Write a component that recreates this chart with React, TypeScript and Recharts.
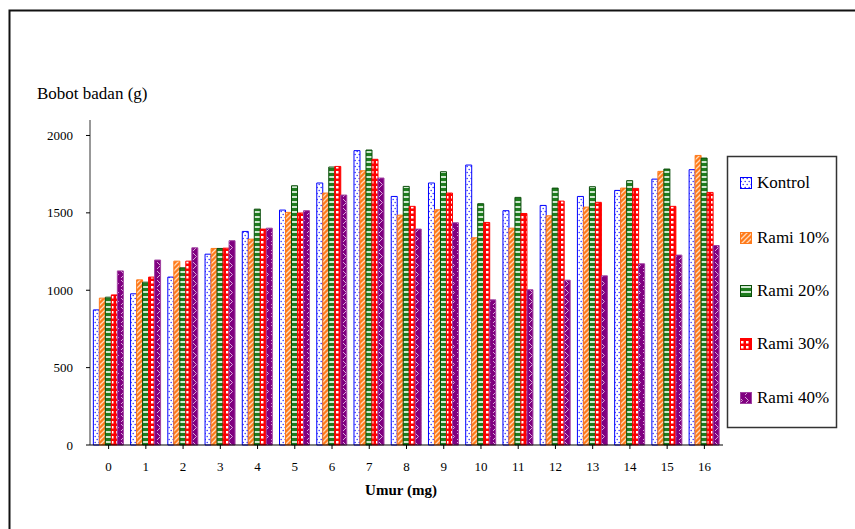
import { BarChart, Bar, XAxis, YAxis } from 'recharts'

const FONT = 'Liberation Serif, Times New Roman, serif'

const ages = ['0', '1', '2', '3', '4', '5', '6', '7', '8', '9', '10', '11', '12', '13', '14', '15', '16']
const kontrol = [873, 977, 1085, 1233, 1380, 1518, 1693, 1902, 1606, 1693, 1809, 1514, 1548, 1606, 1645, 1718, 1779]
const rami10 = [949, 1067, 1188, 1270, 1330, 1503, 1628, 1772, 1485, 1520, 1339, 1401, 1481, 1537, 1660, 1768, 1871]
const rami20 = [955, 1052, 1145, 1270, 1524, 1675, 1796, 1906, 1671, 1766, 1559, 1600, 1660, 1669, 1708, 1783, 1854]
const rami30 = [970, 1085, 1188, 1272, 1395, 1499, 1800, 1846, 1542, 1628, 1438, 1496, 1576, 1568, 1658, 1542, 1632]
const rami40 = [1125, 1195, 1274, 1320, 1401, 1514, 1615, 1725, 1395, 1436, 938, 1003, 1065, 1093, 1171, 1227, 1289]
const yTicks = [0, 500, 1000, 1500, 2000]

const SERIES = [
  { key: 'kontrol', name: 'Kontrol', fill: 'url(#pK)', stroke: '#0000ff' },
  { key: 'rami10', name: 'Rami 10%', fill: 'url(#p10)', stroke: '#ff7a1a' },
  { key: 'rami20', name: 'Rami 20%', fill: 'url(#p20)', stroke: '#0b4d0b' },
  { key: 'rami30', name: 'Rami 30%', fill: 'url(#p30)', stroke: '#ff0000' },
  { key: 'rami40', name: 'Rami 40%', fill: 'url(#p40)', stroke: '#a040a0' },
]

// legend baselines
const legendY = [188, 243, 296, 349, 403]

const data = ages.map((a, i) => ({
  age: a,
  kontrol: kontrol[i],
  rami10: rami10[i],
  rami20: rami20[i],
  rami30: rami30[i],
  rami40: rami40[i],
}))

function Patterns() {
  return (
    <defs>
      <pattern id="pK" patternUnits="userSpaceOnUse" width="4" height="6">
        <rect width="4" height="6" fill="#fff" />
        <circle cx="1.2" cy="1.5" r="0.8" fill="#3a3aff" />
        <circle cx="3.2" cy="4.5" r="0.8" fill="#3a3aff" />
      </pattern>
      <pattern id="p10" patternUnits="userSpaceOnUse" width="5" height="5">
        <rect width="5" height="5" fill="#ff7a1a" />
        <path d="M-1 6 L6 -1 M-1 1 L1 -1 M4 6 L6 4" stroke="#ffd9b8" strokeWidth="1.3" />
      </pattern>
      <pattern id="p20" patternUnits="userSpaceOnUse" width="6" height="5">
        <rect width="6" height="5" fill="#1e7d1e" />
        <rect y="1" width="6" height="2" fill="#cfe8cf" />
      </pattern>
      <pattern id="p30" patternUnits="userSpaceOnUse" width="5" height="5">
        <rect width="5" height="5" fill="#ff0000" />
        <rect x="1" y="1" width="2.5" height="2.5" fill="#fff" />
      </pattern>
      <pattern id="p40" patternUnits="userSpaceOnUse" width="6" height="9">
        <rect width="6" height="9" fill="#800080" />
        <path d="M1 1 L4.5 4.5 L1 8" stroke="#d9a6d9" strokeWidth="1" fill="none" />
      </pattern>
    </defs>
  )
}

const tickStyle = { fontSize: 13, fill: '#000', fontFamily: FONT, style: { fontFamily: FONT } }

export default function App() {
  return (
    <div style={{ position: 'absolute', left: 0, top: 0, width: 855, height: 529, background: '#fff', fontFamily: FONT }}>
      <BarChart
        width={855}
        height={529}
        data={data}
        margin={{ top: 120, right: 132, bottom: 54, left: 30 }}
        barCategoryGap="9%"
        barGap={0}
        style={{ fontFamily: FONT }}
      >
        <Patterns />
        <XAxis
          dataKey="age"
          height={30}
          tickSize={4}
          tickMargin={13}
          axisLine={{ stroke: '#000' }}
          tickLine={{ stroke: '#000' }}
          tick={tickStyle}
          interval={0}
        />
        <YAxis
          width={60}
          domain={[0, 2100]}
          ticks={yTicks}
          tickSize={4}
          tickMargin={13}
          axisLine={{ stroke: '#333' }}
          tickLine={{ stroke: '#000' }}
          tick={tickStyle}
        />
        {SERIES.map(s => (
          <Bar
            key={s.key}
            dataKey={s.key}
            name={s.name}
            fill={s.fill}
            stroke={s.stroke}
            strokeWidth={1}
            isAnimationActive={false}
          />
        ))}
      </BarChart>

      <svg width={855} height={529} style={{ position: 'absolute', left: 0, top: 0, pointerEvents: 'none', fontFamily: FONT }}>
        <path d="M9.5 529 L9.5 10.5 L855 10.5" stroke="#111" strokeWidth={2} fill="none" />
        <text x={37} y={99} fontSize={17} style={{ fontFamily: FONT }} fill="#000">Bobot badan (g)</text>
        <text x={401} y={495} fontSize={15} fontWeight="bold" style={{ fontFamily: FONT }} fill="#000" textAnchor="middle">Umur (mg)</text>
        <rect x={727.5} y={156.5} width={109} height={271} fill="none" stroke="#333" strokeWidth={1.5} />
        {SERIES.map((s, i) => (
          <g key={s.key}>
            <rect x={740.5} y={legendY[i] - 10.5} width={11} height={11} fill={s.fill} stroke={s.stroke} strokeWidth={1} />
            <text x={757} y={legendY[i]} fontSize={17} style={{ fontFamily: FONT }} fill="#000">{s.name}</text>
          </g>
        ))}
      </svg>
    </div>
  )
}
